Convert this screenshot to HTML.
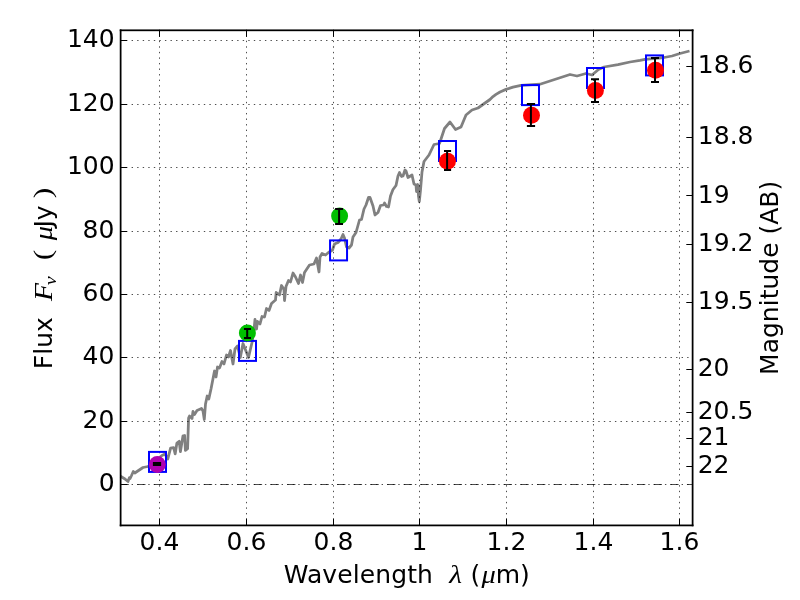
<!DOCTYPE html>
<html lang="en"><head><meta charset="utf-8"><title>SED plot</title>
<style>html,body{margin:0;padding:0;background:#fff}svg{display:block}text{font-family:"DejaVu Sans","Liberation Sans",sans-serif;font-size:25px;fill:#000}.p{font-family:"Liberation Serif",serif;font-size:26px}.m{font-family:"Liberation Serif","DejaVu Serif",serif;font-style:italic}</style></head><body>
<svg width="800" height="600" viewBox="0 0 800 600">
<rect width="800" height="600" fill="#fff"/>
<polyline fill="none" stroke="#808080" stroke-width="2.78" stroke-linejoin="round" stroke-linecap="butt" points="120.5,476.3 125,479 128,481.5 129.4,477.6 130,478.6 131.3,476 133.3,471.5 134.8,473 143,467.5 148,466.5 152,464 156,461 160,457 162,455.5 165,454 167.8,459 170.6,448.2 173.6,447.6 175.2,453.8 176.9,443 179.2,441.3 180.4,451.7 183,435.8 184.6,435.5 185.4,450.3 187.6,448.6 188.2,430 188.6,418 189.5,416 192,418.5 193,411.5 194.5,414.5 197,410.5 201.5,408.5 203,411 204.3,419.5 205.5,404 207.2,396 208.8,399 211,389 214.5,371 216,377 217.5,367 219.5,368 222,361.5 224,364 226.5,355 228.5,357 230.5,350.5 233,364 235,349 237.5,346 240.3,357.5 243,343.5 248.5,357.5 252,342.5 254,330 255,319.5 256.5,329 257.5,321.5 260,324 262,316.5 264.5,317 266.5,308.5 269,310.5 271.5,303.5 275.5,300 276.2,292.5 279.5,295 281.5,285.5 284,289.5 284.5,300.5 286,286.5 288.5,280.5 290.5,282 293,273 295.5,277 298.5,283.5 300.5,275 302.5,282.5 304.5,272.5 309.5,265 314,264 316.5,258 319,272 320,257 322,253.5 325.5,255 328.5,252.5 332.5,250 334.5,244 338,242.5 341,239 343,234.5 344.5,238 346.5,247 349,248 351.5,245 353,237 356,232.5 359.5,220 361.5,219.5 364,209 366,205 368.5,197.5 370,197.5 373,206 375,215 378,212.5 380.5,205.5 383.5,205 384.5,203 386.5,206.5 388.5,207 390.5,196 393,189.5 396,185.5 398,176 399.5,172.5 401.5,176.5 403,176 405,170 406,171 408,177.5 412,175 414,184 416,185 416.5,191.5 417.8,184.5 418.5,196 419.3,201.5 420.5,190 422,172 424,161.5 429,155 434,144.5 439.5,143.5 444.5,128.5 450,122 455.5,129.5 461,127 466,115 472,110 478,108 490,99.5 493,96.6 496,94.4 500,92 506,89.4 513,87.2 521,85.3 540,84.2 550,81 560,77.8 570,74.5 577,76 586,73.5 592,75 598.5,69.5 604,67 618,64.7 630,62 640,60.3 645,59.3 664,57.5 672,56 680,53.5 689.5,51"/>
<g stroke="#000" stroke-width="0.7" stroke-dasharray="1.39 4.1656" fill="none">
<path d="M159.5 29.64 V525"/>
<path d="M246.5 29.64 V525"/>
<path d="M333.5 29.64 V525"/>
<path d="M419.5 29.64 V525"/>
<path d="M506.5 29.64 V525"/>
<path d="M593.5 29.64 V525"/>
<path d="M679.5 29.64 V525"/>
<path d="M120.5 40.5 H692"/>
<path d="M120.5 104.5 H692"/>
<path d="M120.5 167.5 H692"/>
<path d="M120.5 231.5 H692"/>
<path d="M120.5 294.5 H692"/>
<path d="M120.5 357.5 H692"/>
<path d="M120.5 421.5 H692"/>
<path d="M120.5 484.5 H692"/>
</g>
<path d="M120.5 484.5 H692" stroke="#000" stroke-width="0.7" stroke-dasharray="8.33 8.33" fill="none"/>
<g fill="none" stroke="#0000ff" stroke-width="2">
<rect x="149" y="451.9" width="17" height="20"/>
<rect x="239" y="340.9" width="17" height="20"/>
<rect x="330.05" y="240.4" width="17" height="20"/>
<rect x="439" y="141" width="17" height="20"/>
<rect x="522" y="85.1" width="17" height="20"/>
<rect x="587" y="68" width="17" height="20"/>
<rect x="646" y="55.4" width="17" height="20"/>
</g>
<circle cx="157.3" cy="464.5" r="8.5" fill="#b000b0"/>
<circle cx="247.4" cy="333.1" r="8.5" fill="#00bf00"/>
<circle cx="339.6" cy="216.1" r="8.5" fill="#00bf00"/>
<circle cx="447.45" cy="161.3" r="8.5" fill="#ff0000"/>
<circle cx="531.5" cy="115.3" r="8.5" fill="#ff0000"/>
<circle cx="595.4" cy="90.5" r="8.5" fill="#ff0000"/>
<circle cx="655.5" cy="70.3" r="8.5" fill="#ff0000"/>
<g stroke="#000" stroke-width="2" fill="none">
<path d="M157 463 V465 M152.9 463 H161.1 M152.9 465 H161.1"/>
<path d="M247.2 329 V338 M244 329 H251 M244 338 H251"/>
<path d="M339.1 209 V224 M335.1 209 H343 M335.1 224 H343"/>
<path d="M447.1 151.1 V170 M444 151.1 H451.1 M444 170 H451.1"/>
<path d="M530.9 104 V126 M526.9 104 H535.1 M526.9 126 H535.1"/>
<path d="M595 79.2 V102 M591 79.2 H599 M591 102 H599"/>
<path d="M655 58 V82 M651 58 H659 M651 82 H659"/>
</g>
<g fill="#000">
<rect x="119.75" y="29.43" width="1.75" height="496.85"/>
<rect x="691.73" y="29.43" width="1.75" height="496.85"/>
<rect x="119.75" y="29.43" width="573.73" height="1.75"/>
<rect x="119.75" y="524.53" width="573.73" height="1.75"/>
</g>
<g stroke="#000" stroke-width="1" fill="none">
<path d="M159.5 525 v-6.4 M159.5 30 v6.9"/>
<path d="M246.5 525 v-6.4 M246.5 30 v6.9"/>
<path d="M333.5 525 v-6.4 M333.5 30 v6.9"/>
<path d="M419.5 525 v-6.4 M419.5 30 v6.9"/>
<path d="M506.5 525 v-6.4 M506.5 30 v6.9"/>
<path d="M593.5 525 v-6.4 M593.5 30 v6.9"/>
<path d="M679.5 525 v-6.4 M679.5 30 v6.9"/>
<path d="M120 40.5 h7"/>
<path d="M120 104.5 h7"/>
<path d="M120 167.5 h7"/>
<path d="M120 231.5 h7"/>
<path d="M120 294.5 h7"/>
<path d="M120 357.5 h7"/>
<path d="M120 421.5 h7"/>
<path d="M120 484.5 h7"/>
<path d="M692.5 66.5 h-6.2"/>
<path d="M692.5 137.5 h-6.2"/>
<path d="M692.5 195.5 h-6.2"/>
<path d="M692.5 244.5 h-6.2"/>
<path d="M692.5 302.5 h-6.2"/>
<path d="M692.5 369.5 h-6.2"/>
<path d="M692.5 412.5 h-6.2"/>
<path d="M692.5 438.5 h-6.2"/>
<path d="M692.5 466.5 h-6.2"/>
</g>
<text x="159.5" y="550" text-anchor="middle">0.4</text>
<text x="246.5" y="550" text-anchor="middle">0.6</text>
<text x="333.5" y="550" text-anchor="middle">0.8</text>
<text x="419.5" y="550" text-anchor="middle">1</text>
<text x="506.5" y="550" text-anchor="middle">1.2</text>
<text x="593.5" y="550" text-anchor="middle">1.4</text>
<text x="679.5" y="550" text-anchor="middle">1.6</text>
<text x="114.7" y="47" text-anchor="end">140</text>
<text x="114.7" y="111" text-anchor="end">120</text>
<text x="114.7" y="174" text-anchor="end">100</text>
<text x="114.3" y="238" text-anchor="end">80</text>
<text x="114.3" y="301" text-anchor="end">60</text>
<text x="114.3" y="364" text-anchor="end">40</text>
<text x="114.3" y="428" text-anchor="end">20</text>
<text x="114.7" y="491" text-anchor="end">0</text>
<text x="697.85" y="73">18.6</text>
<text x="697.85" y="144">18.8</text>
<text x="697.85" y="202.7">19</text>
<text x="697.85" y="251">19.2</text>
<text x="697.85" y="309">19.5</text>
<text x="697.7" y="376">20</text>
<text x="697.7" y="419">20.5</text>
<text x="697.7" y="445">21</text>
<text x="697.7" y="473">22</text>
<text x="283.7" y="583" style="letter-spacing:0.1px">Wavelength</text>
<text class="m" transform="translate(449.3 583) scale(1.18 1)" id="lam">λ</text>
<text x="470.5" y="583" id="xp1">(</text>
<text class="m" transform="translate(481.6 583) scale(1.14 1)" id="xmu">μ</text>
<text x="495.7" y="583" id="xm">m)</text>
<g transform="translate(51.7 0) rotate(-90)">
<text x="-369.2" y="0" id="flux">Flux</text>
<text class="m" transform="translate(-301.1 0) scale(1.18 1)" id="F">F</text>
<text class="m" transform="translate(-285.3 4.3) scale(1.15 1)" style="font-size:17.5px" id="nu">ν</text>
<text class="p" transform="translate(-260.2 -0.5) scale(1.22 1)" id="yp1">(</text>
<text class="m" transform="translate(-240.3 0) scale(1.14 1)" id="ymu">μ</text>
<text x="-227.5" y="0" id="jy">Jy</text>
<text class="p" transform="translate(-198.3 -0.5) scale(1.22 1)" id="yp2">)</text>
</g>
<text transform="translate(778 374.9) rotate(-90)" id="mag">Magnitude (AB)</text>
</svg></body></html>
